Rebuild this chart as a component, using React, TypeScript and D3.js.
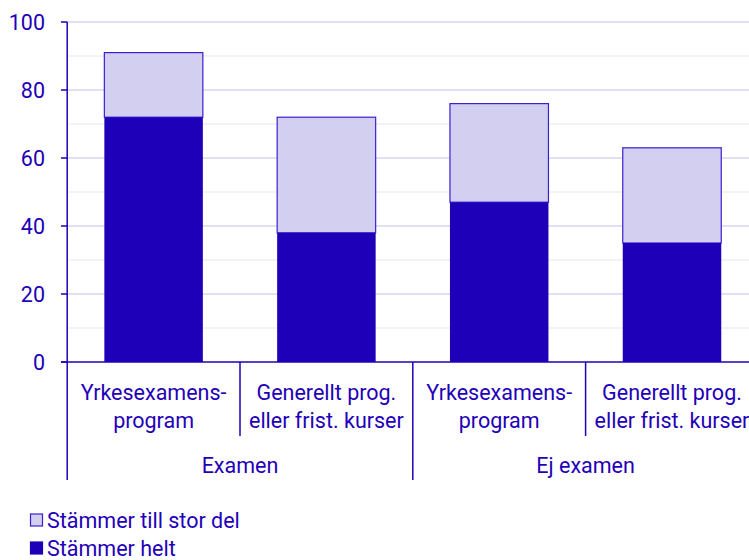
import React from "react";
import * as d3 from "d3";

const categories = [
  ["Yrkesexamens-", "program"],
  ["Generellt prog.", "eller frist. kurser"],
  ["Yrkesexamens-", "program"],
  ["Generellt prog.", "eller frist. kurser"],
];
const groups = ["Examen", "Ej examen"];
const helt = [72, 38, 47, 35];
const storDel = [19, 34, 29, 28];
const yTicks = [0, 20, 40, 60, 80, 100];
const minorTicks = [10, 30, 50, 70, 90];
const seriesNames = ["Stämmer till stor del", "Stämmer helt"];

const DARK = "#1f00b9";
const LIGHT = "#d3cff0";
const FONT = "Roboto, sans-serif";
const FS = 21.5;

export default function App() {
  const W = 749, H = 560;
  const left = 67.2, top = 22, bottom = 362;
  const bandW = 172.8;
  const x = d3.scaleBand<number>().domain([0, 1, 2, 3]).range([left, left + bandW * 4]).paddingInner(0.43).paddingOuter(0.215);
  const y = d3.scaleLinear().domain([0, 100]).range([bottom, top]);
  const bw = x.bandwidth();
  return (
    <svg width={W} height={H} style={{ display: "block", position: "absolute", left: 0, top: 0, overflow: "hidden" }} fontFamily={FONT}>
      {minorTicks.map((t) => (
        <line key={"m" + t} x1={left} x2={W} y1={y(t)} y2={y(t)} stroke="#efeff2" strokeWidth={1.5} />
      ))}
      {yTicks.filter((t) => t > 0).map((t) => (
        <line key={"g" + t} x1={left} x2={W} y1={y(t)} y2={y(t)} stroke="#d8d6f2" strokeWidth={1.5} />
      ))}
      {helt.map((v, i) => (
        <g key={i}>
          <rect x={x(i)!} y={y(v + storDel[i])} width={bw} height={y(v) - y(v + storDel[i])} fill={LIGHT} stroke="#3b1fd0" strokeWidth={1.2} />
          <rect x={x(i)!} y={y(v)} width={bw} height={y(0) - y(v)} fill={DARK} />
        </g>
      ))}
      <line x1={left} x2={left} y1={top} y2={480} stroke={DARK} strokeWidth={1.5} />
      {yTicks.map((t) => (
        <g key={t}>
          <line x1={61} x2={left} y1={y(t)} y2={y(t)} stroke={DARK} strokeWidth={1.5} />
          <text x={45} y={y(t)} dy="0.35em" textAnchor="end" fontSize={FS} fill={DARK}>{t}</text>
        </g>
      ))}
      <line x1={61} x2={W} y1={bottom} y2={bottom} stroke={DARK} strokeWidth={1.5} />
      {[1, 3].map((i) => (
        <line key={"s" + i} x1={left + bandW * i} x2={left + bandW * i} y1={bottom} y2={436} stroke={DARK} strokeWidth={1.5} />
      ))}
      {[2, 4].map((i) => (
        <line key={"gs" + i} x1={left + bandW * i} x2={left + bandW * i} y1={bottom} y2={480} stroke={DARK} strokeWidth={1.5} />
      ))}
      {categories.map((c, i) => (
        <text key={"c" + i} x={left + bandW * (i + 0.5)} textAnchor="middle" fontSize={FS} fill={DARK}>
          <tspan x={left + bandW * (i + 0.5)} y={400}>{c[0]}</tspan>
          <tspan x={left + bandW * (i + 0.5)} y={428}>{c[1]}</tspan>
        </text>
      ))}
      {groups.map((g, i) => (
        <text key={g} x={left + bandW * (2 * i + 1)} y={473} textAnchor="middle" fontSize={FS} fill={DARK}>{g}</text>
      ))}
      {seriesNames.map((s, i) => (
        <g key={s}>
          <rect x={30.5} y={514 + i * 28} width={12} height={12} fill={i === 0 ? LIGHT : DARK} stroke={i === 0 ? "#3b1fd0" : DARK} strokeWidth={1.2} />
          <text x={47} y={520 + i * 28} dy="0.35em" fontSize={FS} fill={DARK}>{s}</text>
        </g>
      ))}
    </svg>
  );
}
